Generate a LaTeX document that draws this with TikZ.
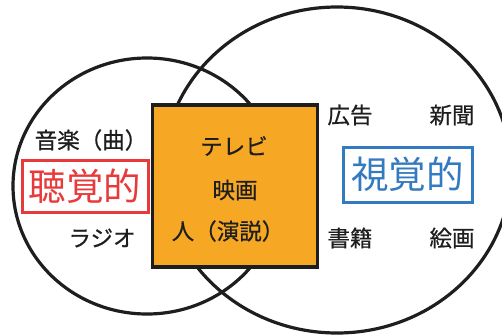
\documentclass[tikz,border=0pt]{standalone}
\usepackage{fontspec}
\setmainfont{Noto Sans CJK JP}
\usetikzlibrary{shapes.geometric}
\definecolor{boxorange}{RGB}{246,168,36}
\definecolor{labelred}{RGB}{232,58,58}
\definecolor{labelblue}{RGB}{52,122,192}
\definecolor{ink}{RGB}{30,30,30}
\newfontfamily\itemfont[FakeBold=0.6]{Noto Sans CJK JP}
\tikzset{
  ring/.style={ellipse, draw=ink, line width=3.2pt, inner sep=0pt},
  centerbox/.style={rectangle, draw=ink, fill=boxorange, line width=3.2pt, inner sep=0pt, minimum width=165pt, minimum height=162pt},
  item/.style={inner sep=0pt, text=ink, font=\itemfont\fontsize{22.5}{22.5}\selectfont},
  redtag/.style={rectangle, draw=labelred, fill=white, line width=3pt, inner sep=0pt, minimum width=126pt, minimum height=52pt, text=labelred, font=\fontsize{37.5}{37.5}\selectfont},
  bluetag/.style={rectangle, draw=labelblue, fill=white, line width=3pt, inner sep=0pt, minimum width=129pt, minimum height=55pt, text=labelblue, font=\fontsize{37.5}{37.5}\selectfont}
}
\begin{document}
\begin{tikzpicture}[x=1pt,y=-1pt]
\useasboundingbox (0,0) rectangle (502,335);
\fill[white] (0,0) rectangle (502,335);
\node[ring, minimum width=268pt, minimum height=256pt] (left) at (147,186) {};
\node[ring, minimum width=348pt, minimum height=326pt] (right) at (337,170) {};
\node[centerbox] (box) at (235,186) {};
\node[item] (tv) at (234,146) {テレビ};
\node[item] (movie) at (235,190) {映画};
\node[item] (speech) at (228,231) {人（演説）};
\node[item] (music) at (91,140) {音楽（曲）};
\node[item] (radio) at (102,238) {ラジオ};
\node[redtag] (aud) at (85,186) {聴覚的};
\node[item] (ad) at (350,115) {広告};
\node[item] (news) at (452,115) {新聞};
\node[bluetag] (vis) at (407.5,174.5) {視覚的};
\node[item] (book) at (350,238) {書籍};
\node[item] (paint) at (452,238) {絵画};
\end{tikzpicture}
\end{document}
